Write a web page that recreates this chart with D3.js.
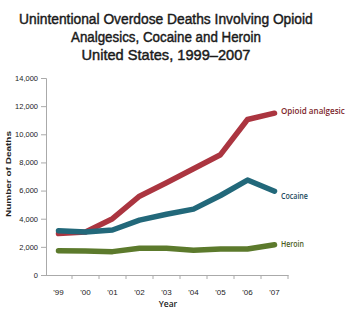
<!DOCTYPE html>
<html><head><meta charset="utf-8">
<script src="https://cdn.jsdelivr.net/npm/d3@7/dist/d3.min.js"></script>
<style>body{margin:0;background:#fff}svg{display:block}</style>
</head><body>
<svg id="c" width="350" height="329"></svg>
<script>
const years = ["'99","'00","'01","'02","'03","'04","'05","'06","'07"];
const opioid = [2950, 3050, 4000, 5600, 6550, 7550, 8550, 11050, 11500];
const cocaine = [3150, 3050, 3200, 3900, 4320, 4680, 5650, 6750, 5950];
const heroin = [1720, 1700, 1660, 1900, 1900, 1760, 1850, 1850, 2150];
const yTicks = [0, 2000, 4000, 6000, 8000, 10000, 12000, 14000];
const titleLines = ["Unintentional Overdose Deaths Involving Opioid", "Analgesics, Cocaine and Heroin", "United States, 1999\u20132007"];
const titleWidths = [294, 190, 169];

const series = [
  {name: "Opioid analgesic", values: opioid, color: "#ab3540", label: "#7d1f2b", ly: 111, lw: 64},
  {name: "Cocaine", values: cocaine, color: "#22687a", label: "#1c4a5e", ly: 196, lw: 27},
  {name: "Heroin", values: heroin, color: "#5c7a2c", label: "#4a5b22", ly: 244, lw: 23}
];

const svg = d3.select("#c");
const x = d3.scaleBand().domain(years).range([45, 288]);
const y = d3.scaleLinear().domain([0, 14000]).range([275, 78]);

// fit text horizontally to a target width by scaling
function fitX(sel, left, base, target) {
  sel.each(function(d, i) {
    const t = d3.select(this);
    const w = this.getComputedTextLength();
    const tw = typeof target === "function" ? target(d, i) : target;
    const lx = typeof left === "function" ? left(d, i) : left;
    const by = typeof base === "function" ? base(d, i) : base;
    t.attr("x", 0).attr("y", 0)
     .attr("transform", `translate(${lx},${by}) scale(${tw / w},1)`);
  });
}

// title
const tt = svg.append("g").selectAll("text").data(titleLines).join("text")
  .attr("font-family", "'Liberation Sans', Arial, sans-serif")
  .attr("font-size", 15).attr("fill", "#1a1a1a")
  .attr("stroke", "#1a1a1a").attr("stroke-width", 0.45)
  .text(d => d);
fitX(tt, (d, i) => 166 - titleWidths[i] / 2, (d, i) => 23.5 + i * 18, (d, i) => titleWidths[i]);

// y axis
const ya = svg.append("g").attr("transform", "translate(46,0)")
  .call(d3.axisLeft(y).tickValues(yTicks).tickSize(5).tickPadding(3).tickFormat(d3.format(",")));
ya.select(".domain").attr("stroke", "#aaa");
ya.selectAll(".tick line").attr("stroke", "#aaa");
ya.selectAll("text").attr("font-family", "'Liberation Sans Narrow', 'Liberation Sans', sans-serif")
  .attr("font-size", 7.5).attr("fill", "#222");

// x axis
const xa = svg.append("g").attr("transform", "translate(0,275)")
  .call(d3.axisBottom(x).tickSize(0).tickPadding(14));
xa.select(".domain").attr("stroke", "#aaa");
xa.selectAll("text").attr("font-family", "'Liberation Sans Narrow', 'Liberation Sans', sans-serif")
  .attr("font-size", 8).attr("fill", "#222");
// boundary ticks
svg.append("g").selectAll("line").data(years).join("line")
  .attr("x1", d => x(d) + x.step())
  .attr("x2", d => x(d) + x.step())
  .attr("y1", 275).attr("y2", 279).attr("stroke", "#aaa");

// axis titles
svg.append("text").attr("transform", "translate(11,174) rotate(-90)")
  .attr("text-anchor", "middle").attr("font-family", "'Liberation Sans', sans-serif")
  .attr("font-size", 8).attr("font-weight", "bold").attr("fill", "#222")
  .attr("textLength", 86).attr("lengthAdjust", "spacingAndGlyphs").text("Number of Deaths");
svg.append("text").attr("x", 168).attr("y", 307).attr("text-anchor", "middle")
  .attr("font-family", "'Open Sans', sans-serif").attr("font-size", 8.5).attr("font-weight", 600)
  .attr("fill", "#222").text("Year");

// lines
const line = d3.line().x((d, i) => x(years[i]) + x.bandwidth() / 2).y(d => y(d));
svg.append("g").selectAll("path").data(series).join("path")
  .attr("d", d => line(d.values)).attr("fill", "none")
  .attr("stroke", d => d.color).attr("stroke-width", 5.5)
  .attr("stroke-linejoin", "round").attr("stroke-linecap", "round");

// labels
const lt = svg.append("g").selectAll("text").data(series).join("text")
  .attr("dy", "0.35em")
  .attr("font-family", "'Open Sans', sans-serif").attr("font-size", 9.5).attr("font-weight", 600)
  .attr("fill", d => d.label).text(d => d.name);
fitX(lt, 281, d => d.ly, d => d.lw);
</script>
</body></html>
